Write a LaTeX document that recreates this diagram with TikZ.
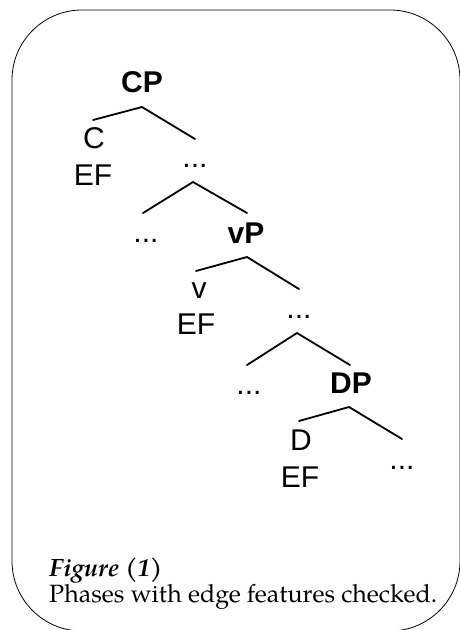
\documentclass[tikz,border=0pt]{standalone}
\usepackage{fontspec}
\setmainfont{TeX Gyre Pagella}
\newfontfamily\treefont{Liberation Sans}
\begin{document}
\begin{tikzpicture}[x=1pt,y=-1pt,
  lab/.style={anchor=base,inner sep=0pt,font=\treefont\fontsize{30}{36}\selectfont},
  captext/.style={anchor=base west,inner sep=0pt,font=\fontsize{25}{30}\selectfont},
  branch/.style={line width=1.8pt,line cap=round},
  frame/.style={line width=0.8pt,rounded corners=70pt}]
\useasboundingbox (0,0) rectangle (459,630);
% rounded frame
\draw[frame] (12,10) rectangle (460,631);

% CP
\node[lab] (cp) at (142,92) {\bfseries CP};
\coordinate (cpA) at (142,107);
\coordinate (cpL) at (93,120);
\coordinate (cpR) at (195,139);
\draw[branch] (cpL) -- (cpA) -- (cpR);
\node[lab] (c) at (94,148) {C};
\node[lab] (ef1) at (93,185) {EF};

% intermediate projection
\node[lab] (d1) at (195,167) {...};
\coordinate (d1A) at (193,182);
\coordinate (d1L) at (143,213);
\coordinate (d1R) at (247,213);
\draw[branch] (d1L) -- (d1A) -- (d1R);
\node[lab] (d1l) at (146,242) {...};

% vP
\node[lab] (vp) at (246,243) {\bfseries vP};
\coordinate (vpA) at (247,257);
\coordinate (vpL) at (196,271);
\coordinate (vpR) at (299,289);
\draw[branch] (vpL) -- (vpA) -- (vpR);
\node[lab] (v) at (199,298) {v};
\node[lab] (ef2) at (196,334) {EF};

% intermediate projection
\node[lab] (d2) at (299,318) {...};
\coordinate (d2A) at (297,333);
\coordinate (d2L) at (247,365);
\coordinate (d2R) at (350,365);
\draw[branch] (d2L) -- (d2A) -- (d2R);
\node[lab] (d2l) at (249,394) {...};

% DP
\node[lab] (dp) at (351,393) {\bfseries DP};
\coordinate (dpA) at (349,407);
\coordinate (dpL) at (299,421);
\coordinate (dpR) at (402,439);
\draw[branch] (dpL) -- (dpA) -- (dpR);
\node[lab] (d) at (301,450) {D};
\node[lab] (ef3) at (300,487) {EF};
\node[lab] (d3) at (402,469) {...};

% caption
\node[captext] (figlab) at (49,576) {\bfseries\itshape Figure (1)};
\node[captext] (figtxt) at (49,602) {Phases with edge features checked.};
\end{tikzpicture}
\end{document}
